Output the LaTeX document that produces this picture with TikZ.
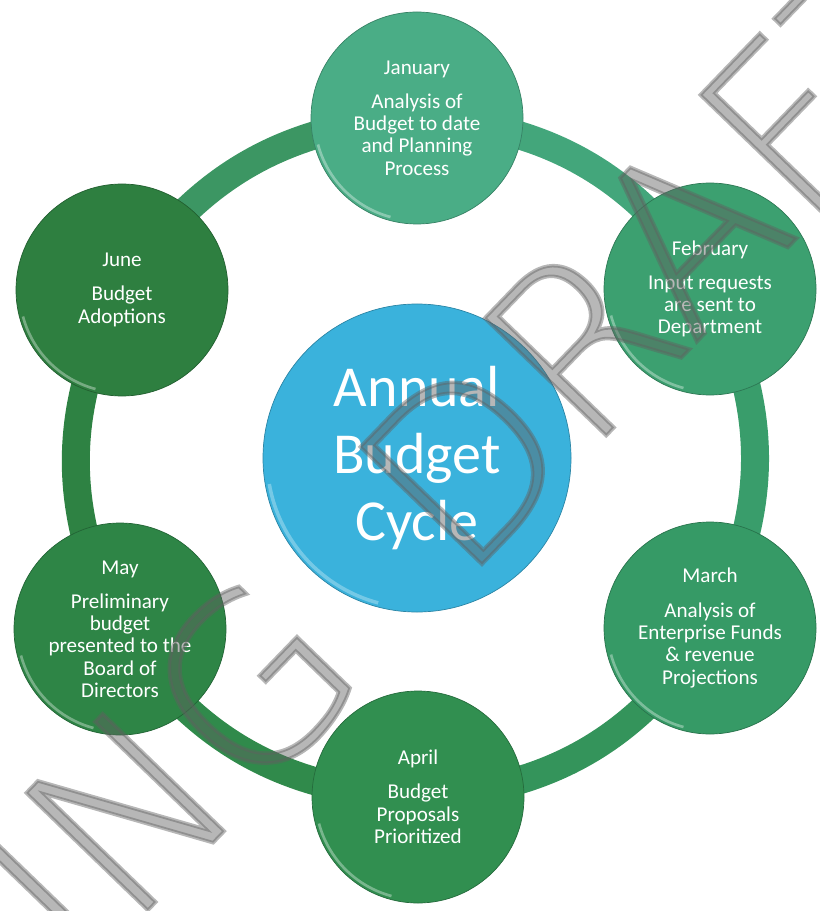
\documentclass[tikz,border=0pt]{standalone}
\usepackage{fontspec}
\setmainfont{Carlito}
\newfontfamily\stampfont{DejaVuSans-ExtraLight}[Extension = .ttf]
\usetikzlibrary{backgrounds}

\definecolor{janGreen}{HTML}{4AAD86}
\definecolor{febGreen}{HTML}{3CA070}
\definecolor{marGreen}{HTML}{369A66}
\definecolor{aprGreen}{HTML}{318F50}
\definecolor{mayGreen}{HTML}{2E8546}
\definecolor{junGreen}{HTML}{2E7F40}
\definecolor{hubBlue}{HTML}{3AB2DC}
\definecolor{wmGray}{HTML}{606060}

% filled and stroked letters for the stamp
\newcommand{\stamptext}[1]{\special{pdf:literal direct 2 Tr 2 w}#1\special{pdf:literal direct 0 Tr}}

\tikzset{
	stage/.style = {circle, minimum size = 4.24cm, inner sep = 0pt, fill = #1, draw = #1!75!black,
		text = white, align = center, font = \fontsize{12}{12.7}\selectfont,
		path picture = {\draw [white, opacity = 0.35, line width = 1.5pt]
			(path picture bounding box.center) ++(195:2.05cm) arc (195:255:2.05cm);}},
	hub/.style = {circle, minimum size = 6.16cm, inner sep = 0pt, fill = hubBlue, draw = hubBlue!75!black,
		text = white, align = center, font = \fontsize{33}{38}\selectfont,
		path picture = {\draw [white, opacity = 0.3, line width = 2pt]
			(path picture bounding box.center) ++(190:3.0cm) arc (190:255:3.0cm);}},
	ring/.style = {line width = 0.56cm, draw = #1},
	watermark/.style = {inner sep = 0pt, text = wmGray, font = \stampfont\fontsize{132}{132}\selectfont}
}

\begin{document}
\begin{tikzpicture}[x = 0.2mm, y = -0.2mm]

	\useasboundingbox (0, 0) rectangle (820, 911);
	\clip (0, 0) rectangle (820, 911);

	% Centre of the cycle
	
	\node [hub] (cycle) at (417, 458) {Annual\\Budget\\Cycle};
	
	% Months round the ring
	
	\node [stage = janGreen] (jan) at (417, 118) {January\\[6.7pt]Analysis of\\Budget to date\\and Planning\\Process};
	\node [stage = febGreen] (feb) at (710, 289) {February\\[6.7pt]Input requests\\are sent to\\Department};
	\node [stage = marGreen] (mar) at (710, 628) {March\\[6.7pt]Analysis of\\Enterprise Funds\\\& revenue\\Projections};
	\node [stage = aprGreen] (apr) at (418, 797) {April\\[6.7pt]Budget\\Proposals\\Prioritized};
	\node [stage = mayGreen] (may) at (120, 629) {May\\[6.7pt]Preliminary\\budget\\presented to the\\Board of\\Directors};
	\node [stage = junGreen] (jun) at (122, 290) {June\\[6.7pt]Budget\\Adoptions};
	
	% Ring behind the months
	
	\begin{pgfonlayer}{background}
		\draw [ring = janGreen!50!febGreen] (jan.center) to [bend left = 27] (feb.center);
		\draw [ring = febGreen!50!marGreen] (feb.center) to [bend left = 27] (mar.center);
		\draw [ring = marGreen!50!aprGreen] (mar.center) to [bend left = 27] (apr.center);
		\draw [ring = aprGreen!50!mayGreen] (apr.center) to [bend left = 27] (may.center);
		\draw [ring = mayGreen!50!junGreen] (may.center) to [bend left = 27] (jun.center);
		\draw [ring = junGreen!50!janGreen] (jun.center) to [bend left = 27] (jan.center);
	\end{pgfonlayer}
	
	% Draft stamp over everything
	
	\begin{scope}[opacity = 0.45]
		\node [watermark, rotate = 46, anchor = base west] (stamp) at (462, 585)
			{\stamptext{\llap{WORKING\hspace{0.55em}}DRAFT}};
	\end{scope}
	
\end{tikzpicture}
\end{document}
